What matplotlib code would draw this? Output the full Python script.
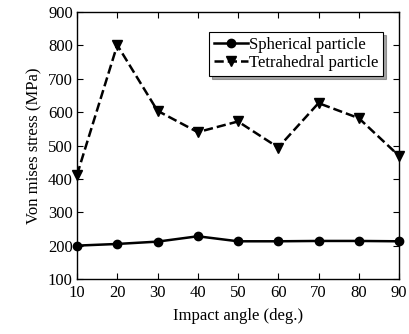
import numpy as np
import matplotlib.pyplot as plt

plt.rcParams['font.family'] = ['Liberation Serif', 'DejaVu Serif']

angle = [10, 20, 30, 40, 50, 60, 70, 80, 90]
spherical = [200, 205, 212, 228, 213, 213, 214, 214, 213]
tetrahedral = [412, 801, 604, 540, 572, 494, 627, 582, 469]

fig = plt.figure(figsize=(4.09, 3.34), dpi=100)
ax = fig.add_axes([77 / 409, 1 - 279 / 334, (399 - 77) / 409, (279 - 12) / 334])

ax.plot(angle, spherical, 'k-', marker='o', markersize=6, linewidth=1.8, label='Spherical particle', clip_on=False)
ax.plot(angle, tetrahedral, 'k--', marker='v', markersize=7, linewidth=1.8, label='Tetrahedral particle', clip_on=False)

ax.set_xlim(10, 90)
ax.set_ylim(100, 900)
ax.set_xticks(range(10, 91, 10))
ax.set_yticks(range(100, 901, 100))
ax.tick_params(direction='in', right=True, top=True, labelsize=12, length=4)
ax.tick_params(axis='x', pad=4.5)
ax.tick_params(axis='y', pad=3)
for s in ax.spines.values():
    s.set_linewidth(1.0)
ax.set_xlabel('Impact angle (deg.)', fontsize=12, labelpad=5)
ax.set_ylabel('Von mises stress (MPa)', fontsize=12, labelpad=4)

leg = ax.legend(loc='upper right', bbox_to_anchor=(0.950, 0.925), fontsize=12, fancybox=False,
                shadow=True, edgecolor='black', handlelength=2.0, handletextpad=0.05,
                borderpad=0.3, labelspacing=0.12, borderaxespad=0, framealpha=1)
leg.get_frame().set_linewidth(0.8)

plt.savefig('out.png', dpi=100)
